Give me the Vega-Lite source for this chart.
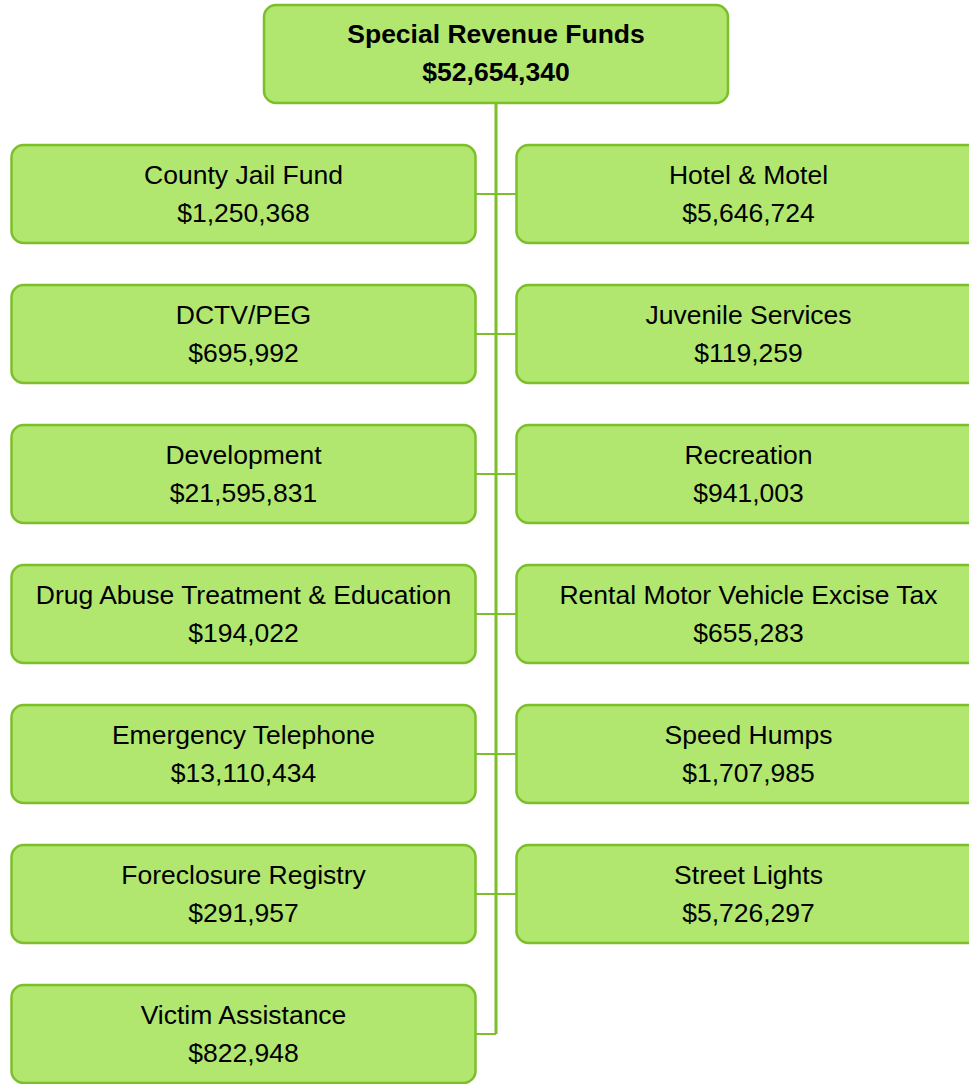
{
  "$schema": "https://vega.github.io/schema/vega-lite/v6.json",
  "width": 969,
  "height": 1084,
  "autosize": "none",
  "padding": 0,
  "background": "#ffffff",
  "config": {"view": {"stroke": null}},
  "data": {
    "values": [
      {"name": "Special Revenue Funds", "amount": 52654340, "col": 0, "row": 0},
      {"name": "County Jail Fund", "amount": 1250368, "col": -1, "row": 1},
      {"name": "Hotel & Motel", "amount": 5646724, "col": 1, "row": 1},
      {"name": "DCTV/PEG", "amount": 695992, "col": -1, "row": 2},
      {"name": "Juvenile Services", "amount": 119259, "col": 1, "row": 2},
      {"name": "Development", "amount": 21595831, "col": -1, "row": 3},
      {"name": "Recreation", "amount": 941003, "col": 1, "row": 3},
      {"name": "Drug Abuse Treatment & Education", "amount": 194022, "col": -1, "row": 4},
      {"name": "Rental Motor Vehicle Excise Tax", "amount": 655283, "col": 1, "row": 4},
      {"name": "Emergency Telephone", "amount": 13110434, "col": -1, "row": 5},
      {"name": "Speed Humps", "amount": 1707985, "col": 1, "row": 5},
      {"name": "Foreclosure Registry", "amount": 291957, "col": -1, "row": 6},
      {"name": "Street Lights", "amount": 5726297, "col": 1, "row": 6},
      {"name": "Victim Assistance", "amount": 822948, "col": -1, "row": 7}
    ]
  },
  "encoding": {
    "x": {"field": "col", "type": "quantitative", "scale": {"domain": [-1.9644, 1.8733], "zero": false, "nice": false}, "axis": null},
    "y": {"field": "row", "type": "quantitative", "scale": {"domain": [-0.3857, 7.3571], "zero": false, "nice": false, "reverse": true}, "axis": null}
  },
  "layer": [
    {
      "mark": {"type": "line", "color": "#7cbf2a", "strokeWidth": 3},
      "encoding": {
        "x": {"datum": 0, "type": "quantitative"},
        "order": {"field": "row", "type": "quantitative"}
      }
    },
    {
      "transform": [{"filter": "datum.row > 0"}],
      "mark": {"type": "rule", "color": "#7cbf2a", "strokeWidth": 2},
      "encoding": {
        "x2": {"datum": 0}
      }
    },
    {
      "mark": {"type": "rect", "width": 464, "height": 98, "cornerRadius": 12, "fill": "#b1e66f", "stroke": "#7cbf2a", "strokeWidth": 2.5}
    },
    {
      "transform": [{"filter": "datum.row > 0"}],
      "mark": {"type": "text", "font": "Liberation Sans", "fontSize": 26.5, "color": "#000000", "dy": -18, "baseline": "middle", "align": "center"},
      "encoding": {"text": {"field": "name"}}
    },
    {
      "transform": [{"filter": "datum.row > 0"}],
      "mark": {"type": "text", "font": "Liberation Sans", "fontSize": 26.5, "color": "#000000", "dy": 20, "baseline": "middle", "align": "center"},
      "encoding": {"text": {"field": "amount", "type": "quantitative", "format": "$,.0f"}}
    },
    {
      "transform": [{"filter": "datum.row == 0"}],
      "mark": {"type": "text", "font": "Liberation Sans", "fontSize": 26.5, "fontWeight": "bold", "color": "#000000", "dy": -19, "baseline": "middle", "align": "center"},
      "encoding": {"text": {"field": "name"}}
    },
    {
      "transform": [{"filter": "datum.row == 0"}],
      "mark": {"type": "text", "font": "Liberation Sans", "fontSize": 26.5, "fontWeight": "bold", "color": "#000000", "dy": 19, "baseline": "middle", "align": "center"},
      "encoding": {"text": {"field": "amount", "type": "quantitative", "format": "$,.0f"}}
    }
  ]
}
